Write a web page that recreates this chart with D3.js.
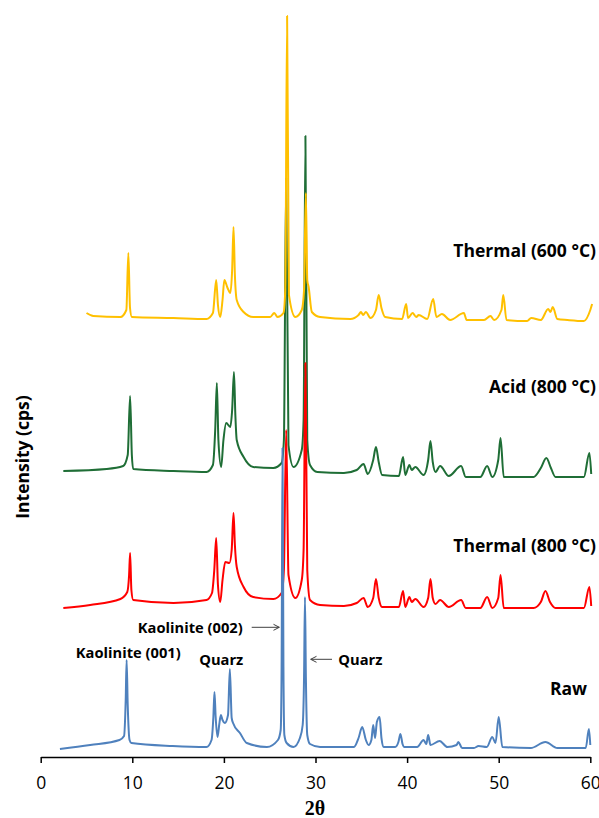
<!DOCTYPE html>
<html>
<head>
<meta charset="utf-8">
<script src="https://cdnjs.cloudflare.com/ajax/libs/d3/7.8.5/d3.min.js"></script>
<style>
    body { margin: 0; background: #fff; }
    .tick text { font-family: "Open Sans", sans-serif; font-size: 17.5px; fill: #000; }
    .tick line, .domain { stroke: #000; stroke-width: 1.5px; }
    .series-label { font-family: "Open Sans", sans-serif; font-weight: bold; font-size: 17.5px; }
    .peak-label { font-family: "Open Sans", sans-serif; font-weight: bold; font-size: 14.7px; }
    .axis-title { font-family: "Open Sans", sans-serif; font-weight: bold; font-size: 17.5px; }
    .pattern { fill: none; stroke-width: 2px; stroke-linejoin: round; }
</style>
</head>
<body>
<div id="chart"></div>
<script>

// 2theta (deg) , intensity (cps, offset already added)
const rawData = [[2.1,80],[5.4,120],[8.6,170],[9.1,210],[9.28,570],[9.38,970],[9.5,520],[9.7,170],[9.9,140],
    [14.4,110],[18.1,100],[18.65,170],[18.85,400],[18.97,650],[19.1,400],[19.3,200],[19.5,330],[19.67,420],
    [19.85,370],[20.1,340],[20.45,420],[20.65,880],[20.85,390],[21.0,340],[21.75,240],[22.5,140],[24.7,100],
    [25.9,170],[26.2,270],[26.3,900],[26.4,3090],[26.5,900],[26.6,220],[26.85,140],[27.6,100],[28.3,190],
    [28.6,320],[28.75,800],[28.85,1600],[28.95,800],[29.1,220],[29.4,130],[30.5,100],[34.2,100],[34.7,190],
    [35.1,300],[35.5,170],[35.8,120],[36.1,170],[36.3,320],[36.5,190],[36.7,350],[37.0,400],[37.2,190],
    [37.45,100],[38.7,100],[39.05,150],[39.27,230],[39.5,130],[39.7,100],[41.1,100],[41.8,170],[42.1,130],
    [42.3,220],[42.55,120],[43.55,160],[44.4,100],[45.4,120],[45.6,150],[46.0,90],[47.3,90],[47.8,110],
    [48.7,100],[49.3,200],[49.65,140],[50.0,400],[50.4,100],[53.5,90],[55.1,150],[56.4,90],[59.5,90],
    [59.85,280],[60.0,120]];

const thermal800Data = [[2.47,1490],[5.4,1520],[8.7,1580],[9.45,1650],[9.65,1820],[9.76,2040],[9.9,1670],
    [10.1,1570],[14.5,1540],[18.1,1570],[18.7,1640],[18.95,1870],[19.16,2190],[19.35,1720],[19.6,1550],
    [19.85,1770],[20.15,1950],[20.6,1940],[20.85,2070],[21.05,2440],[21.2,2120],[21.4,1900],[22.15,1700],
    [23.2,1600],[25.4,1580],[26.3,1640],[26.55,1870],[26.8,3270],[27.05,1820],[27.8,1590],[28.5,1770],
    [28.7,2070],[28.9,3940],[29.1,1870],[29.4,1570],[30.5,1520],[33.1,1510],[34.5,1540],[35.25,1590],
    [35.7,1500],[36.3,1590],[36.6,1780],[36.9,1590],[37.27,1500],[39.1,1500],[39.56,1660],[39.8,1500],
    [40.25,1600],[40.5,1550],[40.9,1580],[41.8,1500],[42.3,1590],[42.55,1780],[42.8,1590],[43.1,1530],
    [43.6,1570],[44.55,1500],[45.9,1570],[46.4,1490],[48.0,1490],[48.74,1600],[49.3,1490],[49.95,1590],
    [50.2,1820],[50.55,1490],[53.8,1490],[54.6,1550],[55.1,1660],[55.6,1550],[56.2,1490],[59.3,1490],
    [59.9,1700],[60.1,1510]];

const acid800Data = [[2.47,2860],[7.2,2880],[9.0,2910],[9.5,3020],[9.76,3610],[9.95,3020],[10.1,2880],
    [14.5,2860],[18.1,2850],[18.8,2920],[19.05,3270],[19.23,3740],[19.4,3170],[19.7,2900],[19.95,3170],
    [20.25,3340],[20.7,3300],[20.9,3470],[21.1,3850],[21.25,3420],[21.4,3170],[22.15,3000],[23.2,2900],
    [25.4,2890],[26.3,2940],[26.55,3170],[26.8,5790],[27.05,3120],[27.6,2900],[28.5,3070],[28.7,3370],
    [28.9,6210],[29.1,3170],[29.4,2920],[30.2,2850],[33.1,2840],[34.5,2870],[35.25,2930],[35.7,2830],
    [36.3,2970],[36.6,3100],[36.9,2950],[37.27,2820],[39.1,2810],[39.56,3000],[39.8,2820],[40.25,2920],
    [40.5,2870],[40.9,2900],[41.8,2820],[42.3,2970],[42.55,3160],[42.8,2950],[43.1,2850],[43.6,2910],
    [44.55,2810],[45.9,2910],[46.4,2800],[48.0,2800],[48.74,2910],[49.3,2800],[49.95,2970],[50.2,3190],
    [50.55,2800],[53.8,2800],[54.6,2890],[55.2,2990],[55.7,2890],[56.2,2800],[59.3,2800],[59.9,3040],
    [60.1,2830]];

const thermal600Data = [[5.0,4440],[5.75,4410],[8.7,4400],[9.35,4470],[9.57,5040],[9.75,4490],[9.95,4400],
    [14.5,4390],[18.1,4380],[18.8,4440],[19.16,4770],[19.35,4520],[19.6,4400],[19.85,4570],[20.05,4770],
    [20.4,4690],[20.7,4640],[20.9,4870],[21.05,5300],[21.2,4820],[21.4,4570],[22.15,4450],[23.2,4400],
    [25.05,4400],[25.5,4440],[25.85,4400],[26.5,4440],[26.7,4670],[26.9,7410],[27.1,4620],[27.8,4400],
    [28.5,4470],[28.75,4670],[28.95,5640],[29.1,4770],[29.25,4700],[29.6,4450],[30.5,4400],[33.8,4380],
    [34.7,4420],[34.96,4450],[35.2,4420],[35.5,4450],[36.0,4390],[36.6,4470],[36.9,4620],[37.2,4490],
    [37.6,4400],[39.45,4380],[39.9,4530],[40.1,4390],[40.6,4440],[41.0,4400],[41.27,4420],[42.2,4380],
    [42.85,4580],[43.2,4400],[43.8,4430],[44.7,4370],[46.2,4440],[46.5,4370],[48.4,4370],[49.1,4410],
    [49.5,4370],[50.3,4470],[50.5,4620],[50.85,4370],[53.1,4360],[53.55,4390],[54.6,4370],[55.4,4480],
    [55.65,4450],[55.9,4500],[56.4,4380],[57.5,4370],[59.3,4360],[60.0,4470],[60.2,4530]];

const seriesNames = ['Acid (800 °C)', 'Thermal (800 °C)', 'Raw', 'Thermal (600 °C)'];
const xTicks = [0, 10, 20, 30, 40, 50, 60];
const xDomain = [0, 60];
const yDomain = [0, 7570];


class xrdVis {

    constructor(parentElement) {
        this.parentElement = parentElement;
        this.patterns = [acid800Data, thermal800Data, rawData, thermal600Data];

        // define colors (same order as patterns)
        this.colors = ['#1f6e36', '#ff0000', '#4f81bd', '#ffc000'];

        this.initVis();
    }

    initVis() {
        let vis = this;
        vis.width = 599;
        vis.height = 818;

        vis.svg = d3.select('#' + vis.parentElement).append('svg')
            .attr('width', vis.width)
            .attr('height', vis.height);

        vis.x = d3.scaleLinear()
            .domain(xDomain)
            .range([40.7, 590.3]);

        vis.y = d3.scaleLinear()
            .domain(yDomain)
            .range([757, 0]);

        vis.line = d3.line()
            .x(d => vis.x(d[0]))
            .y(d => vis.y(d[1]))
            .curve(d3.curveMonotoneX);

        // x axis
        vis.svg.append('g')
            .attr('class', 'x-axis')
            .attr('transform', 'translate(0,' + vis.y(0) + ')')
            .call(d3.axisBottom(vis.x)
                .tickValues(xTicks)
                .tickFormat(d3.format('d'))
                .tickSize(6)
                .tickSizeOuter(0)
                .tickPadding(14));

        vis.updateVis();
    }

    updateVis() {
        let vis = this;

        vis.svg.selectAll('.pattern')
            .data(vis.patterns)
            .enter()
            .append('path')
            .attr('class', 'pattern')
            .attr('stroke', (d, i) => vis.colors[i])
            .attr('d', d => vis.line(d));

        //series labels
        let labelPos = [[596, 393.3], [596, 551.7], [587, 695], [596, 256.7]];
        vis.svg.selectAll('.series-label')
            .data(seriesNames)
            .enter()
            .append('text')
            .attr('class', 'series-label')
            .attr('text-anchor', 'end')
            .attr('x', (d, i) => labelPos[i][0])
            .attr('y', (d, i) => labelPos[i][1])
            .text(d => d);

        //peak annotations on the raw pattern
        vis.svg.append('text').attr('class', 'peak-label')
            .attr('x', 242.7).attr('y', 633.3).attr('text-anchor', 'end')
            .text('Kaolinite (002)');
        vis.svg.append('text').attr('class', 'peak-label')
            .attr('x', 180.7).attr('y', 658.3).attr('text-anchor', 'end')
            .text('Kaolinite (001)');
        vis.svg.append('text').attr('class', 'peak-label')
            .attr('x', 243.3).attr('y', 665).attr('text-anchor', 'end')
            .text('Quarz');
        vis.svg.append('text').attr('class', 'peak-label')
            .attr('x', 338.3).attr('y', 665)
            .text('Quarz');

        vis.svg.append('path')
            .attr('d', 'M251.7,627.3 L279.3,627.3 M273.5,624.3 L279.3,627.3 L273.5,630.3')
            .attr('fill', 'none').attr('stroke', '#404040').attr('stroke-width', 1);
        vis.svg.append('path')
            .attr('d', 'M332,659.3 L310.7,659.3 M316.5,656.3 L310.7,659.3 L316.5,662.3')
            .attr('fill', 'none').attr('stroke', '#404040').attr('stroke-width', 1);

        // axis titles
        vis.svg.append('text')
            .attr('class', 'axis-title')
            .attr('x', 315)
            .attr('y', 815)
            .attr('text-anchor', 'middle')
            .style('font-family', '"Liberation Serif", serif')
            .style('font-size', '20px')
            .text('2θ');

        vis.svg.append('text')
            .attr('class', 'axis-title')
            .attr('transform', 'translate(29,457) rotate(-90)')
            .attr('text-anchor', 'middle')
            .text('Intensity (cps)');
    }
}

new xrdVis('chart');
</script>
</body>
</html>
